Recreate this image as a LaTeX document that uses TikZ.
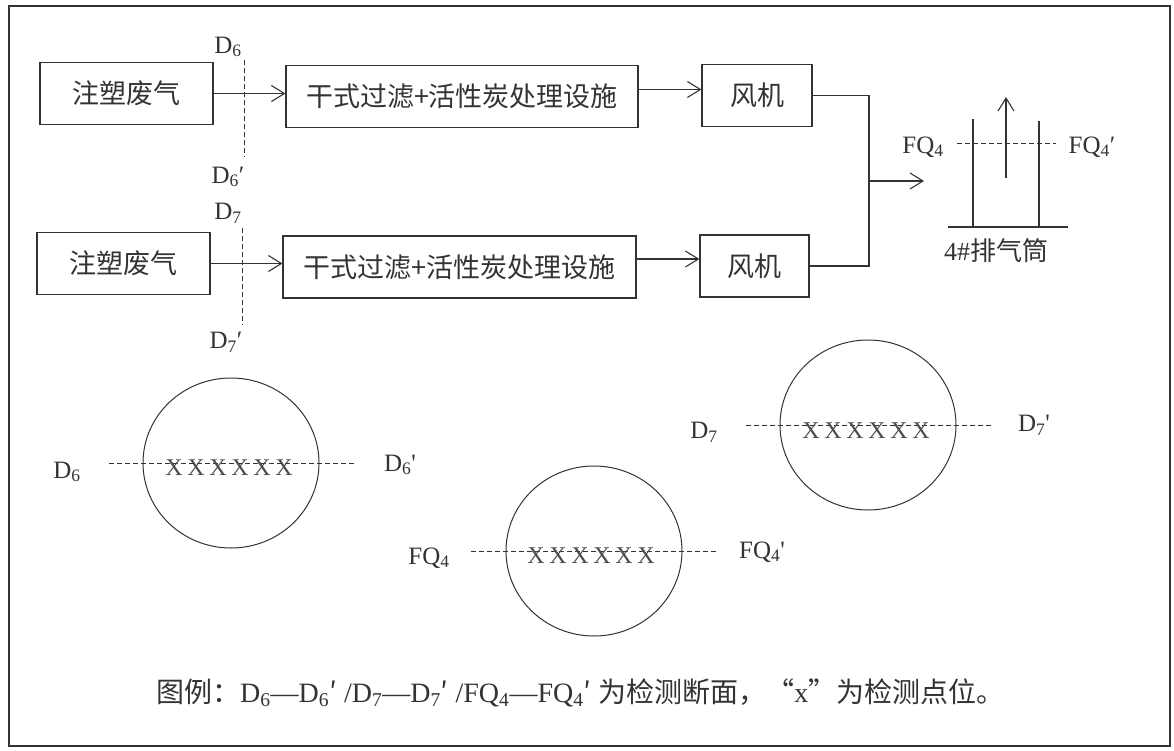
\documentclass[tikz,border=0pt]{standalone}
\usepackage{fontspec}
\setmainfont{Liberation Serif}
\newfontfamily\cjk{Noto Sans CJK SC}
\usetikzlibrary{arrows.meta}
\tikzset{>={Straight Barb[length=13pt,width=16pt]}}

\begin{document}
\begin{tikzpicture}[x=1pt,y=-1pt,
		box/.style={draw=black!80, line width=1.1pt, minimum height=62pt, inner sep=0pt, text=black!80, font=\cjk\fontsize{27}{30}\selectfont},
		lab/.style={inner sep=0pt, text=black!80, font=\fontsize{25}{28}\selectfont},
		ln/.style={draw=black!80, line width=1.1pt},
		cut/.style={draw=black!80, line width=0.9pt, dash pattern=on 5pt off 3pt},
		pt/.style={inner sep=0pt, anchor=base, text=black!70, font=\fontsize{24}{26}\selectfont}]
		    \useasboundingbox (0,0) rectangle (1174,751);
		    \draw[ln, line width=1.4pt] (9,6) rectangle (1170,746);

		    % two lines of equipment
		    \node[box, minimum width=173pt] (inA) at (126.5,93.5) {注塑废气};
		    \node[box, minimum width=352pt] (flA) at (462,96.5) {干式过滤+活性炭处理设施};
		    \node[box, minimum width=110pt] (fanA) at (757,95.5) {风机};
		    \node[box, minimum width=173pt] (inB) at (123.5,263.5) {注塑废气};
		    \node[box, minimum width=353pt] (flB) at (459.5,267) {干式过滤+活性炭处理设施};
		    \node[box, minimum width=109pt] (fanB) at (754.5,266) {风机};

		    \draw[ln,->] (inA.east) -- (inA.east -| flA.west);
		    \draw[ln,->] (inB.east) -- (inB.east -| flB.west);
		    \draw[ln,->] ([yshift=7pt]flA.east) -- ([yshift=7pt]flA.east -| fanA.west);
		    \draw[ln,->] ([yshift=8pt]flB.east) -- ([yshift=8pt]flB.east -| fanB.west);

		    \coordinate (mg) at (869,181);
		    \coordinate (stk) at (924,181);
		    \draw[ln] (fanA.east) -| (mg) |- (fanB.east);
		    \draw[ln,->] (mg) -- (stk);

		    % stack
		    \draw[ln] (973,119) -- (973,227);
		    \draw[ln] (1039,121) -- (1039,227);
		    \draw[ln] (948,227) -- (1068,227);
		    \draw[ln,->] (1006,178) -- (1006,97);
		    \draw[cut] (957,143) -- (1056,143);
		    \node[lab] (fq) at (923,147) {FQ\textsubscript{4}};
		    \node[lab] (fqp) at (1092,147) {FQ\textsubscript{4}′};
		    \node[lab, font=\fontsize{26}{28}\selectfont] (stack) at (996,251) {4\#{\cjk 排气筒}};

		    % cut lines in the ducts
		    \node[lab] (dsix) at (228,47) {D\textsubscript{6}};
		    \node[lab] (dsixp) at (228,177) {D\textsubscript{6}′};
		    \draw[cut] (244,60) -- (244,157);
		    \node[lab] (dsev) at (228,213) {D\textsubscript{7}};
		    \node[lab] (dsevp) at (226,342) {D\textsubscript{7}′};
		    \draw[cut] (242,228) -- (242,325);

		    % sections
		    \draw[ln, line width=1pt] (231,463) ellipse [x radius=88pt, y radius=85pt];
		    \draw[cut] (109,463) -- (356,463);
		    \node[lab] (sixL) at (67,472) {D\textsubscript{6}};
		    \node[lab] (sixR) at (400,465) {D\textsubscript{6}\textquotesingle};
		    \foreach \i in {0,...,5}
		        \node[pt] (xa\i) at (174+22*\i,475) {X};

		    \draw[ln, line width=1pt] (868,425) ellipse [x radius=88pt, y radius=85pt];
		    \draw[cut] (746,425) -- (991,425);
		    \node[lab] (sevL) at (704,432) {D\textsubscript{7}};
		    \node[lab] (sevR) at (1034,425) {D\textsubscript{7}\textquotesingle};
		    \foreach \i in {0,...,5}
		        \node[pt] (xb\i) at (811+22*\i,438) {X};

		    \draw[ln, line width=1pt] (594,551) ellipse [x radius=88pt, y radius=85pt];
		    \draw[cut] (471,551) -- (717,551);
		    \node[lab] (fqL) at (429,558) {FQ\textsubscript{4}};
		    \node[lab] (fqR) at (762,552) {FQ\textsubscript{4}\textquotesingle};
		    \foreach \i in {0,...,5}
		        \node[pt] (xc\i) at (536+22*\i,563) {X};

		    \node[lab, anchor=west, font=\fontsize{28}{30}\selectfont] (legend) at (156,693) {{\cjk 图例：}D\textsubscript{6}—D\textsubscript{6}{\cjk ′} /D\textsubscript{7}—D\textsubscript{7}{\cjk ′} /FQ\textsubscript{4}—FQ\textsubscript{4}{\cjk ′} {\cjk 为检测断面，“}x{\cjk ”为检测点位。}};
\end{tikzpicture}
\end{document}
